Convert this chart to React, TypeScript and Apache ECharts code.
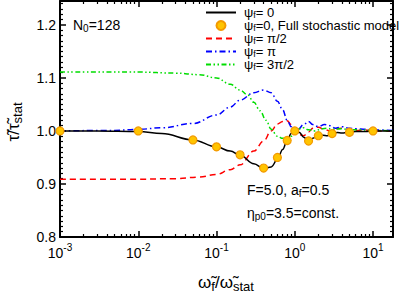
import React, { useEffect, useRef } from "react";
import * as echarts from "echarts";

// ---- data ----
const blackX = [0.001, 0.003, 0.01, 0.02, 0.05, 0.1, 0.15, 0.2, 0.3, 0.4, 0.5, 0.6, 0.7, 0.8, 0.9, 1.0, 1.15, 1.3, 1.5, 1.7, 2.0, 2.3, 2.6, 3.0, 3.5, 4.0, 5.0, 6.0, 8.0, 10, 18];
const blackY = [1.0, 1.0, 0.999, 0.995, 0.983, 0.970, 0.962, 0.954, 0.938, 0.929, 0.932, 0.946, 0.965, 0.982, 0.995, 1.0, 0.997, 0.988, 0.981, 0.986, 0.993, 0.992, 0.991, 0.995, 0.997, 0.996, 0.998, 0.999, 0.999, 1.0, 1.0];

const stochX = [0.001, 0.01, 0.05, 0.1, 0.2, 0.4, 0.6, 0.8, 1.0, 1.5, 2.0, 3.0, 5.0, 10];
const stochY = [1.0, 1.0, 0.983, 0.970, 0.955, 0.930, 0.950, 0.982, 1.0, 0.981, 0.991, 0.995, 0.9975, 1.0];

const redX = [0.001, 0.01, 0.03, 0.06, 0.1, 0.15, 0.2, 0.3, 0.4, 0.5, 0.6, 0.7, 0.8, 0.9, 1.0, 1.15, 1.3, 1.5, 1.7, 2.0, 2.4, 2.8, 3.3, 4.0, 5.0, 6.0, 8.0, 10, 18];
const redY = [0.909, 0.909, 0.910, 0.913, 0.918, 0.927, 0.936, 0.962, 0.981, 1.0, 1.013, 1.018, 1.019, 1.012, 1.002, 0.993, 0.991, 0.998, 1.005, 1.007, 1.003, 1.0, 1.004, 1.005, 1.002, 1.001, 1.002, 1.0, 1.0];

const blueX = [0.001, 0.005, 0.01, 0.02, 0.05, 0.1, 0.15, 0.2, 0.3, 0.4, 0.5, 0.6, 0.7, 0.8, 0.9, 1.0, 1.1, 1.3, 1.5, 1.7, 2.0, 2.4, 2.8, 3.3, 4.0, 5.0, 6.0, 8.0, 10, 18];
const blueY = [1.0, 1.001, 1.003, 1.006, 1.014, 1.030, 1.045, 1.058, 1.072, 1.077, 1.072, 1.056, 1.040, 1.020, 1.008, 1.002, 1.003, 1.012, 1.018, 1.012, 1.008, 1.012, 1.010, 1.005, 1.008, 1.005, 1.004, 1.003, 1.002, 1.001];

const greenX = [0.001, 0.01, 0.03, 0.06, 0.1, 0.15, 0.2, 0.25, 0.3, 0.36, 0.43, 0.5, 0.6, 0.7, 0.8, 0.9, 1.0, 1.15, 1.3, 1.5, 1.8, 2.2, 2.6, 3.0, 4.0, 5.0, 7.0, 10, 18];
const greenY = [1.111, 1.111, 1.109, 1.106, 1.100, 1.088, 1.077, 1.068, 1.054, 1.038, 1.020, 1.003, 0.990, 0.986, 0.986, 0.990, 0.997, 1.004, 1.006, 1.002, 1.0, 1.004, 1.005, 1.003, 1.004, 1.002, 1.002, 1.001, 1.0];

const legendLabels: Record<string, string> = {
  psi0: "ψ{sub|f}= 0",
  stoch: "ψ{sub|f}=0, Full stochastic model",
  pi2: "ψ{sub|f}= π/2",
  pi: "ψ{sub|f}= π",
  pi32: "ψ{sub|f}= 3π/2",
};

const X_MIN = 0.001;
const X_MAX = 18;
const Y_MIN = 0.8;
const Y_MAX = 1.245;
const Y_STEP = 0.1;

const FONT = "Liberation Sans, Arial, sans-serif";

function zip(xs: number[], ys: number[]) {
  return xs.map((x, i) => [x, ys[i]]);
}

function minorLogTicks(): number[] {
  const out: number[] = [];
  for (let d = -3; d <= 1; d++) {
    for (let k = 2; k <= 9; k++) {
      const v = k * Math.pow(10, d);
      if (v <= X_MAX) out.push(Math.log10(v));
    }
  }
  return out;
}

export default function App() {
  const ref = useRef<HTMLDivElement>(null);

  useEffect(() => {
    document.body.style.margin = "0";
    if (!ref.current) return;
    const chart = echarts.init(ref.current, undefined, { renderer: "svg" });

    const axisLineStyle = { color: "#000", width: 2 };
    const majorTick = { show: true, inside: true, length: 6, lineStyle: { color: "#000", width: 1.5 } };
    const minorTickLen = { show: true, inside: true, length: 3, lineStyle: { color: "#000", width: 1.2 } };
    const lxMin = Math.log10(X_MIN);
    const lxMax = Math.log10(X_MAX);
    const noLine = { show: false, onZero: false };
    const line = { show: true, onZero: false, lineStyle: axisLineStyle };
    const yMinor = { show: true, splitNumber: 10, length: 3, lineStyle: { color: "#000", width: 1.2 } };

    const option: any = {
      animation: false,
      backgroundColor: "#fff",
      grid: { left: 60, right: 6, top: 1, bottom: 60, containLabel: false },
      xAxis: [
        {
          type: "log", logBase: 10, min: X_MIN, max: X_MAX, position: "bottom",
          axisLine: line,
          axisTick: majorTick,
          axisLabel: {
            show: true, margin: 5, color: "#000", fontFamily: FONT, fontSize: 14, lineHeight: 22,
            formatter: (v: number) => "10{sup|" + Math.round(Math.log10(v)) + "}",
            rich: { sup: { fontSize: 10, fontFamily: FONT, color: "#000", verticalAlign: "top", lineHeight: 10 } },
          },
          splitLine: { show: false }, minorTick: { show: false },
        },
        {
          type: "value", min: lxMin, max: lxMax, position: "bottom",
          axisLine: noLine,
          axisTick: { ...minorTickLen, customValues: minorLogTicks() },
          axisLabel: { show: false }, splitLine: { show: false },
        },
        {
          type: "log", logBase: 10, min: X_MIN, max: X_MAX, position: "top",
          axisLine: line,
          axisTick: majorTick,
          axisLabel: { show: false }, splitLine: { show: false },
        },
        {
          type: "value", min: lxMin, max: lxMax, position: "top",
          axisLine: noLine,
          axisTick: { ...minorTickLen, customValues: minorLogTicks() },
          axisLabel: { show: false }, splitLine: { show: false },
        },
      ],
      yAxis: [
        {
          type: "value", min: Y_MIN, max: Y_MAX, interval: Y_STEP, position: "left",
          axisLine: line,
          axisTick: majorTick,
          minorTick: yMinor,
          axisLabel: {
            show: true, margin: 4, color: "#000", fontFamily: FONT, fontSize: 14, showMaxLabel: false,
            formatter: (v: number) => v.toFixed(1),
          },
          splitLine: { show: false },
        },
        {
          type: "value", min: Y_MIN, max: Y_MAX, interval: Y_STEP, position: "right",
          axisLine: line,
          axisTick: majorTick,
          minorTick: yMinor,
          axisLabel: { show: false }, splitLine: { show: false },
        },
      ],
      legend: {
        left: 205, top: 6, orient: "vertical", itemWidth: 30, itemHeight: 9, itemGap: 0,
        padding: 0,
        data: [
          { name: "psi0", itemStyle: { opacity: 0 } },
          { name: "stoch" },
          { name: "pi2", itemStyle: { opacity: 0 } },
          { name: "pi", itemStyle: { opacity: 0 } },
          { name: "pi32", itemStyle: { opacity: 0 } },
        ],
        formatter: (name: string) => legendLabels[name],
        textStyle: {
          fontFamily: FONT, fontSize: 13, color: "#000", lineHeight: 11, padding: [0, 0, 0, 3],
          rich: { sub: { fontSize: 9, fontFamily: FONT, color: "#000", lineHeight: 7, padding: [4, 0, 0, 0] } },
        },
      },
      series: [
        {
          name: "psi0", type: "line", data: zip(blackX, blackY), symbol: "none",
          smooth: 0.4, smoothMonotone: "x",
          lineStyle: { color: "#000", width: 1.5 }, itemStyle: { color: "#000" }, z: 3,
        },
        {
          name: "stoch", type: "scatter", data: zip(stochX, stochY), symbol: "circle", symbolSize: 8,
          itemStyle: { color: "#FFC400", borderColor: "#F39A00", borderWidth: 1.2, opacity: 1 }, z: 10,
        },
        {
          name: "pi2", type: "line", data: zip(redX, redY), symbol: "none",
          smooth: 0.4, smoothMonotone: "x",
          lineStyle: { color: "#FF0000", width: 1.5, type: [6, 4] }, itemStyle: { color: "#FF0000" }, z: 2,
        },
        {
          name: "pi", type: "line", data: zip(blueX, blueY), symbol: "none",
          smooth: 0.4, smoothMonotone: "x",
          lineStyle: { color: "#0000FF", width: 1.5, type: [6, 3, 1.5, 3] }, itemStyle: { color: "#0000FF" }, z: 2,
        },
        {
          name: "pi32", type: "line", data: zip(greenX, greenY), symbol: "none",
          smooth: 0.4, smoothMonotone: "x",
          lineStyle: { color: "#00DD00", width: 1.5, type: [5, 2.5, 1.5, 2.5, 1.5, 2.5] }, itemStyle: { color: "#00DD00" }, z: 2,
        },
      ],
      graphic: [
        {
          type: "text", x: 73, y: 25,
          style: {
            text: "N{sub|0}=128", fontFamily: FONT, fontSize: 14, fill: "#000", verticalAlign: "middle",
            rich: { sub: { fontSize: 10, fontFamily: FONT, fill: "#000", padding: [6, 0, 0, 0] } },
          },
        },
        {
          type: "text", x: 247, y: 190,
          style: {
            text: "F=5.0, a{sub|f}=0.5", fontFamily: FONT, fontSize: 14, fill: "#000", verticalAlign: "middle",
            rich: { sub: { fontSize: 10, fontFamily: FONT, fill: "#000", padding: [6, 0, 0, 0] } },
          },
        },
        {
          type: "text", x: 247, y: 213,
          style: {
            text: "η{sub|p0}=3.5=const.", fontFamily: FONT, fontSize: 14, fill: "#000", verticalAlign: "middle",
            rich: { sub: { fontSize: 10, fontFamily: FONT, fill: "#000", padding: [6, 0, 0, 0] } },
          },
        },
        {
          type: "text", x: 226, y: 282,
          style: {
            text: "ω̃{sub|f}/ω̃{sub|stat}", fontFamily: FONT, fontSize: 17, fill: "#000",
            align: "center", verticalAlign: "middle",
            rich: { sub: { fontSize: 13, fontFamily: FONT, fill: "#000", padding: [8, 0, 0, 0] } },
          },
        },
        {
          type: "text", x: 13, y: 122, rotation: Math.PI / 2,
          style: {
            text: "τ̃/τ̃{sub|stat}", fontFamily: FONT, fontSize: 17, fill: "#000",
            align: "center", verticalAlign: "middle",
            rich: { sub: { fontSize: 13, fontFamily: FONT, fill: "#000", padding: [8, 0, 0, 0] } },
          },
        },
      ],
    };

    chart.setOption(option);
    return () => chart.dispose();
  }, []);

  return <div ref={ref} style={{ width: 399, height: 297 }} />;
}
